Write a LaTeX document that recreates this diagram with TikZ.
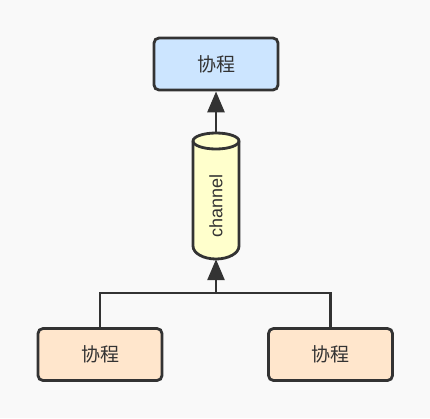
\documentclass[tikz,border=0pt]{standalone}
\usepackage{fontspec}
\setmainfont{Liberation Sans}
\newfontfamily\cjk{Noto Sans CJK SC}
\usetikzlibrary{arrows.meta}
\definecolor{bg}{HTML}{F9F9F9}
\definecolor{edge}{HTML}{333333}
\definecolor{blueFill}{HTML}{CCE5FF}
\definecolor{orangeFill}{HTML}{FFE6CC}
\definecolor{yellowFill}{HTML}{FFFFCC}
\tikzset{
  procbox/.style={draw=edge, line width=2.8pt, rounded corners=5pt, minimum width=124pt, minimum height=52pt, inner sep=0pt, font=\cjk\fontsize{19}{22}\selectfont, text=edge},
  chanbox/.style={minimum width=46pt, minimum height=126pt, inner sep=0pt, font=\fontsize{18}{21}\selectfont, text=edge},
  cylline/.style={draw=edge, line width=2.8pt},
  link/.style={draw=edge, line width=2.8pt},
  arr/.style={link, -{Triangle[length=21pt,width=17pt]}},
}
\begin{document}
\begin{tikzpicture}[x=1pt,y=-1pt]
\fill[bg] (0,0) rectangle (430,418);
\useasboundingbox (0,0) rectangle (430,418);
\node[procbox, fill=blueFill] (top) at (216,64) {协程};
% channel cylinder
\node[chanbox] (ch) at (216,196) {};
\path[cylline, fill=yellowFill] (193,141) -- (193,246)
  arc[start angle=180, end angle=0, x radius=23, y radius=13]
  -- (239,141)
  arc[start angle=0, end angle=-180, x radius=23, y radius=8] -- cycle;
\draw[cylline] (193,141) arc[start angle=180, end angle=0, x radius=23, y radius=8];
\node[chanbox, rotate=90] at (216,206) {channel};
\node[procbox, fill=orangeFill] (left) at (100,354.5) {协程};
\node[procbox, fill=orangeFill] (right) at (330.5,354.5) {协程};
\coordinate (j) at (216,293);
\draw[link] (left.north) |- (j) -| (right.north);
\draw[arr] (j) -- (ch.south);
\draw[arr] (ch.north) -- (top.south);
\end{tikzpicture}
\end{document}
